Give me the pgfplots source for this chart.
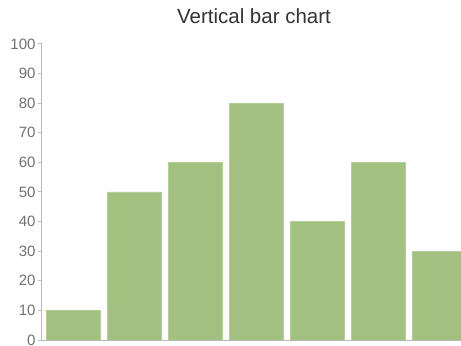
\documentclass[border=0pt]{standalone}
\usepackage{fontspec}
\setmainfont{Liberation Sans}
\usepackage{pgfplots}
\pgfplotsset{compat=1.18}
\definecolor{barfill}{HTML}{A2C181}
\definecolor{baredge}{HTML}{B4CE98}
\definecolor{axgray}{HTML}{BBBBBB}
\definecolor{txtgray}{HTML}{707070}
\begin{document}
\begin{tikzpicture}
\begin{axis}[
  at={(42bp,6bp)}, anchor=south west,
  scale only axis,
  width=419bp, height=296bp,
  xmin=-0.516, xmax=6.352,
  ymin=0, ymax=100,
  axis lines*=left,
  axis line style={axgray, line width=1bp},
  x axis line style={-},
  y axis line style={-},
  xtick=\empty,
  ytick={0,10,...,100},
  tick style={axgray, line width=1bp},
  ytick pos=left,
  tick align=outside,
  major tick length=4bp,
  yticklabel style={font=\fontsize{15bp}{15bp}\selectfont, text=txtgray, xshift=1bp},
  /pgf/number format/assume math mode=true,
  ybar, bar width=0.89,
  clip=true,
]
\addplot[fill=barfill, draw=baredge, line width=0.8bp] coordinates {
(0,10) (1,50) (2,60) (3,80) (4,40) (5,60) (6,30)};
\end{axis}
\node[anchor=base, text=black!80, font=\fontsize{20.5bp}{20.5bp}\selectfont] at (254bp,322.7bp) {Vertical bar chart};
\pgfresetboundingbox
\path (0,0) rectangle (461bp,346bp);
\end{tikzpicture}
\end{document}
